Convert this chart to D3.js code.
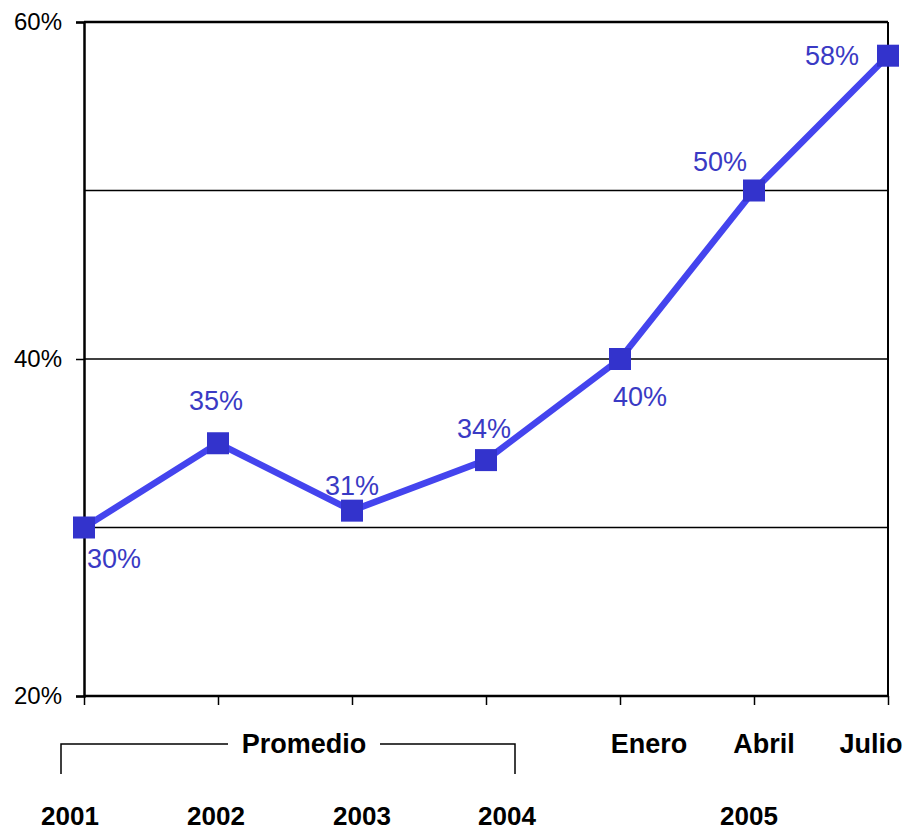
<!DOCTYPE html>
<html><head><meta charset="utf-8">
<script src="https://cdn.jsdelivr.net/npm/d3@7"></script>
<style>body{margin:0;background:#fff;} svg{display:block;font-family:"Liberation Sans",Arial,sans-serif;}</style>
</head><body>
<script>
const categories = ["2001","2002","2003","2004","Enero","Abril","Julio"];
const values = [30, 35, 31, 34, 40, 50, 58];
const valueLabels = ["30%","35%","31%","34%","40%","50%","58%"];
const yTicks = [20, 40, 60];
const gridValues = [30, 40, 50];
const monthLabels = ["Enero","Abril","Julio"];
const yearLabels = ["2001","2002","2003","2004","2005"];
const groupLabel = "Promedio";

const W = 909, H = 831;
const m = {left:84, right:21, top:22, bottom:135};
const svg = d3.select("body").append("svg").attr("width",W).attr("height",H);

const x = d3.scalePoint().domain(categories).range([m.left, W-m.right]).padding(0);
const y = d3.scaleLinear().domain([20,60]).range([H-m.bottom, m.top]);

// gridlines
svg.append("g").selectAll("line").data(gridValues).join("line")
  .attr("x1",m.left).attr("x2",W-m.right)
  .attr("y1",d=>y(d)).attr("y2",d=>y(d))
  .attr("stroke","#000").attr("stroke-width",1.3);

// frame top and right
svg.append("line").attr("x1",m.left).attr("x2",W-m.right).attr("y1",m.top).attr("y2",m.top).attr("stroke","#000").attr("stroke-width",2.5);
svg.append("line").attr("x1",W-m.right).attr("x2",W-m.right).attr("y1",m.top).attr("y2",H-m.bottom).attr("stroke","#000").attr("stroke-width",2);

// y axis
const yAxis = d3.axisLeft(y).tickValues(yTicks).tickFormat(d=>d+"%").tickSize(8).tickPadding(14);
const gy = svg.append("g").attr("transform",`translate(${m.left},0)`).call(yAxis);
gy.select(".domain").attr("stroke","#000").attr("stroke-width",2.5);
gy.selectAll(".tick line").attr("stroke","#000").attr("stroke-width",1.5);
gy.selectAll(".tick text").attr("font-size",24).attr("fill","#000").attr("font-family","Liberation Sans, Arial, sans-serif");

// x axis
const xAxis = d3.axisBottom(x).tickSize(9).tickFormat("");
const gx = svg.append("g").attr("transform",`translate(0,${H-m.bottom})`).call(xAxis);
gx.select(".domain").attr("stroke","#000").attr("stroke-width",2.5).attr("d",`M${m.left},0H${W-m.right}`);
gx.selectAll(".tick line").attr("stroke","#000").attr("stroke-width",1.5);

// line
const line = d3.line().x((d,i)=>x(categories[i])).y(d=>y(d));
svg.append("path").datum(values).attr("d",line).attr("fill","none")
  .attr("stroke","#4444ee").attr("stroke-width",6.5).attr("stroke-linejoin","round");

// markers
const ms = 22;
svg.append("g").selectAll("rect").data(values).join("rect")
  .attr("x",(d,i)=>x(categories[i])-ms/2).attr("y",d=>y(d)-ms/2)
  .attr("width",ms).attr("height",ms).attr("fill","#3333cc");

// value labels
const labelOffsets = [
  {dx:3, dy:40, anchor:"start"},
  {dx:-2, dy:-33, anchor:"middle"},
  {dx:0, dy:-16, anchor:"middle"},
  {dx:-2, dy:-22, anchor:"middle"},
  {dx:20, dy:47, anchor:"middle"},
  {dx:-34, dy:-20, anchor:"middle"},
  {dx:-56, dy:9, anchor:"middle"}
];
svg.append("g").selectAll("text").data(values).join("text")
  .attr("x",(d,i)=>x(categories[i])+labelOffsets[i].dx)
  .attr("y",(d,i)=>y(d)+labelOffsets[i].dy)
  .attr("text-anchor",(d,i)=>labelOffsets[i].anchor)
  .attr("font-size",27).attr("fill","#3a3ac4")
  .text((d,i)=>valueLabels[i]);

// month labels
const monthOffsets = [29, 10, -17];
svg.append("g").selectAll("text").data(monthLabels).join("text")
  .attr("x",(d,i)=>x(d)+monthOffsets[i]).attr("y",753)
  .attr("text-anchor","middle").attr("font-size",27).attr("font-weight","bold").attr("fill","#000")
  .text(d=>d);

// Promedio bracket
const bx1 = 61, bx2 = 515, by = 744;
svg.append("path").attr("d",`M${bx1},774V${by}H228M380,${by}H${bx2}V774`)
  .attr("fill","none").attr("stroke","#000").attr("stroke-width",1.5);
svg.append("text").attr("x",(228+380)/2).attr("y",753).attr("text-anchor","middle")
  .attr("font-size",27).attr("font-weight","bold").text(groupLabel);

// year labels
const yearX = [x("2001")-14, x("2002")-2, x("2003")+10, x("2004")+21, (x("Enero")+x("Julio"))/2-5];
svg.append("g").selectAll("text").data(yearLabels).join("text")
  .attr("x",(d,i)=>yearX[i]).attr("y",825)
  .attr("text-anchor","middle").attr("font-size",26).attr("font-weight","bold").text(d=>d);
</script>
</body></html>
